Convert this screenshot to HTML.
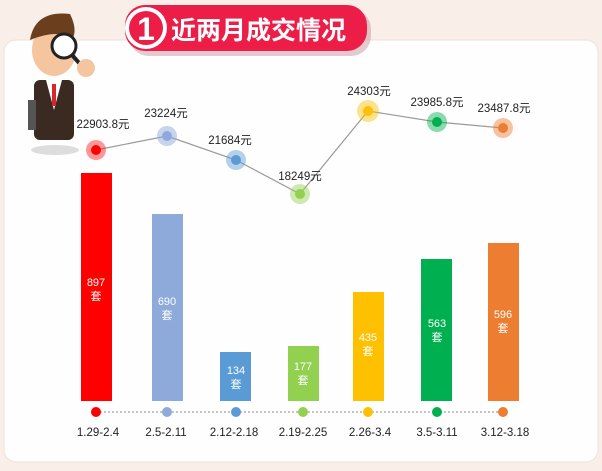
<!DOCTYPE html><html><head><meta charset="utf-8"><style>
body{margin:0;width:602px;height:466px;background:#f9eee8;overflow:hidden;font-family:"Liberation Sans","Noto Sans CJK SC",sans-serif}
</style></head><body>
<svg width="602" height="466" xmlns="http://www.w3.org/2000/svg" font-family="Liberation Sans, Noto Sans CJK SC, sans-serif">
<rect x="4" y="40" width="594" height="422" rx="12" fill="#fefefe" stroke="#eee3dc"/>
<rect x="129" y="9" width="242" height="47" rx="20" fill="#c9959f" opacity="0.5"/>
<rect x="125" y="5" width="242" height="46" rx="20" fill="#ec1e48"/>
<circle cx="146" cy="28" r="21" fill="#fff"/>
<circle cx="146" cy="28" r="17" fill="#ec1e48"/>
<text x="146" y="40" font-size="32" font-weight="bold" fill="#fff" text-anchor="middle">1</text>
<text x="171" y="39" font-size="25" font-weight="bold" fill="#fff">近两月成交情况</text>
<g>
<ellipse cx="55" cy="150" rx="24" ry="5" fill="#ddd"/>
<rect x="34" y="80" width="40" height="60" rx="6" fill="#3b2a22"/>
<polygon points="46,80 62,80 54,110" fill="#fff"/>
<rect x="52" y="84" width="4" height="22" fill="#d9252b"/>
<rect x="28" y="100" width="8" height="30" fill="#555"/>
<ellipse cx="54" cy="50" rx="22" ry="26" fill="#f5c5a0"/>
<path d="M30 40 Q35 10 70 14 Q78 30 72 40 Q60 28 30 40Z" fill="#6b3f1d"/>
<circle cx="64" cy="46" r="12" fill="#fff" stroke="#222" stroke-width="3"/>
<line x1="72" y1="55" x2="80" y2="64" stroke="#222" stroke-width="4"/>
<circle cx="86" cy="68" r="9" fill="#f5c5a0"/>
</g>
<g fill="none" stroke="#999" stroke-width="1.2"><polyline points="96,150 167,136 236,160 300,194 368,111 437,122 503,128"/></g>
<g>
<rect x="81" y="173" width="31" height="228" fill="#ff0000"/>
<rect x="152" y="214" width="31" height="187" fill="#8eaadb"/>
<rect x="220" y="352" width="31" height="49" fill="#5b9bd5"/>
<rect x="288" y="346" width="31" height="55" fill="#92d050"/>
<rect x="353" y="292" width="31" height="109" fill="#ffc000"/>
<rect x="421" y="259" width="31" height="142" fill="#00b050"/>
<rect x="488" y="243" width="31" height="158" fill="#ed7d31"/>
</g>
<g font-size="11" fill="#fff" text-anchor="middle">
<text x="96" y="286">897</text><text x="96" y="300">套</text>
<text x="167" y="305">690</text><text x="167" y="319">套</text>
<text x="236" y="374">134</text><text x="236" y="388">套</text>
<text x="303" y="370">177</text><text x="303" y="384">套</text>
<text x="368" y="341">435</text><text x="368" y="355">套</text>
<text x="437" y="327">563</text><text x="437" y="341">套</text>
<text x="503" y="318">596</text><text x="503" y="332">套</text>
</g>
<g>
<circle cx="96" cy="150" r="10" fill="#ff0000" opacity="0.4"/><circle cx="96" cy="150" r="5" fill="#ff0000"/>
<circle cx="167" cy="136" r="10" fill="#8eaadb" opacity="0.5"/><circle cx="167" cy="136" r="5" fill="#8eaadb"/>
<circle cx="236" cy="160" r="10" fill="#5b9bd5" opacity="0.45"/><circle cx="236" cy="160" r="5" fill="#5b9bd5"/>
<circle cx="300" cy="194" r="10" fill="#92d050" opacity="0.45"/><circle cx="300" cy="194" r="5" fill="#92d050"/>
<circle cx="368" cy="111" r="11" fill="#ffc000" opacity="0.45"/><circle cx="368" cy="111" r="5" fill="#ffc000"/>
<circle cx="437" cy="122" r="10" fill="#00b050" opacity="0.45"/><circle cx="437" cy="122" r="5" fill="#00b050"/>
<circle cx="503" cy="128" r="10" fill="#ed7d31" opacity="0.45"/><circle cx="503" cy="128" r="5" fill="#ed7d31"/>
</g>
<g font-size="11.5" fill="#222" text-anchor="middle">
<text x="103" y="128">22903.8元</text>
<text x="166" y="117">23224元</text>
<text x="230" y="144">21684元</text>
<text x="300" y="180">18249元</text>
<text x="369" y="95">24303元</text>
<text x="437" y="106">23985.8元</text>
<text x="504" y="112">23487.8元</text>
</g>
<line x1="96" y1="412" x2="503" y2="412" stroke="#888" stroke-dasharray="2,2"/>
<g>
<circle cx="96" cy="412" r="5" fill="#ff0000"/><circle cx="167" cy="412" r="5" fill="#8eaadb"/>
<circle cx="236" cy="412" r="5" fill="#5b9bd5"/><circle cx="303" cy="412" r="5" fill="#92d050"/>
<circle cx="368" cy="412" r="5" fill="#ffc000"/><circle cx="437" cy="412" r="5" fill="#00b050"/>
<circle cx="503" cy="412" r="5" fill="#ed7d31"/>
</g>
<g font-size="11.5" fill="#222" text-anchor="middle">
<text x="98" y="436">1.29-2.4</text><text x="166" y="436">2.5-2.11</text>
<text x="234" y="436">2.12-2.18</text><text x="303" y="436">2.19-2.25</text>
<text x="370" y="436">2.26-3.4</text><text x="437" y="436">3.5-3.11</text>
<text x="505" y="436">3.12-3.18</text>
</g>
</svg>
</body></html>
